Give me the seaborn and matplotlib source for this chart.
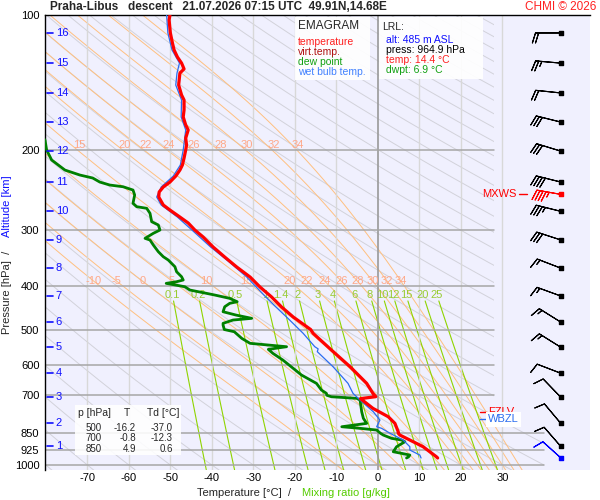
import numpy as np
import pandas as pd
import matplotlib
matplotlib.use("Agg")
import matplotlib.pyplot as plt
import seaborn as sns
from matplotlib.patches import Rectangle, Polygon
from matplotlib.ticker import NullLocator

# ---- sounding (hPa, degC) ----
temp_p = [100.0, 102.6, 109.6, 115.4, 119.6, 124.0, 127.9, 131.8, 134.6, 143.1, 150.6, 154.5,
          162.6, 168.5, 175.6, 180.1, 187.7, 194.5, 199.5, 207.9, 215.5, 221.1, 228.0, 235.1,
          241.1, 247.4, 253.8, 264.4, 271.3, 281.2, 289.9, 300.5, 311.5, 327.8, 345.1, 363.2,
          382.2, 402.3, 423.4, 445.6, 469.0, 500.0, 509.9, 555.3, 604.9, 658.6, 693.1, 700.0,
          705.0, 712.0, 748.4, 781.3, 808.2, 843.6, 850.0, 858.0, 880.2, 910.9, 958.8, 964.9]
temp_t = [-50.1, -50.3, -50.0, -49.5, -49.1, -48.3, -47.3, -46.7, -47.7, -48.0, -47.3, -46.7,
          -46.7, -46.9, -46.3, -45.7, -46.3, -46.1, -46.3, -46.7, -47.1, -47.7, -48.7, -50.1,
          -51.7, -52.7, -52.8, -51.7, -50.1, -47.7, -45.7, -44.1, -42.1, -39.7, -36.9, -34.0,
          -30.8, -28.4, -25.6, -23.2, -20.4, -16.2, -15.6, -11.2, -6.7, -2.7, -1.2, -0.8,
          -0.5, -4.2, -1.2, 2.5, 4.1, 4.9, 4.9, 5.3, 7.7, 10.9, 14.1, 14.4]

dwpt_p = [150.0, 189.6, 199.6, 210.0, 221.1, 226.8, 230.3, 235.1, 238.7, 240.8, 244.9, 251.2,
          262.1, 266.7, 268.9, 275.9, 288.0, 292.9, 300.5, 305.6, 313.6, 316.3, 324.5, 335.8,
          344.5, 350.4, 362.6, 372.0, 381.6, 388.1, 391.5, 394.8, 401.7, 408.5, 415.5, 419.1,
          426.3, 433.7, 437.3, 445.0, 456.5, 464.3, 472.2, 476.3, 484.4, 488.7, 500.0, 505.7,
          523.1, 536.6, 546.0, 553.4, 564.8, 584.5, 609.9, 631.2, 658.6, 681.5, 693.1, 700.0,
          705.3, 711.1, 717.3, 761.6, 787.7, 808.2, 822.3, 829.0, 836.3, 850.0, 858.0, 872.6,
          880.2, 887.9, 910.9, 934.5, 942.2, 950.5, 958.8, 964.9]
dwpt_t = [-92.0, -80.2, -79.8, -78.6, -75.4, -71.8, -68.7, -67.0, -64.6, -61.4, -59.0, -58.6,
          -59.0, -58.1, -55.7, -54.9, -54.5, -52.9, -52.5, -54.1, -56.1, -54.9, -54.1, -52.9,
          -51.7, -50.5, -48.9, -48.5, -47.3, -46.9, -48.5, -51.0, -46.5, -45.3, -41.3, -39.3,
          -35.7, -33.9, -35.7, -36.9, -37.3, -34.2, -30.4, -34.9, -37.3, -37.3, -37.0, -34.6,
          -32.8, -30.8, -22.0, -26.4, -25.3, -22.9, -20.4, -18.4, -14.8, -13.6, -12.4, -12.3,
          -11.2, -5.1, -4.3, -3.9, -3.5, -2.7, -8.7, -4.3, -0.3, 0.6, 1.3, 3.3,
          5.7, 6.5, 4.5, 3.7, 5.7, 7.7, 7.4, 6.9]

wetb_p = [100.0, 109.6, 119.6, 127.9, 134.6, 143.1, 154.5, 168.5, 180.1, 199.5, 215.5, 228.0,
          241.1, 253.8, 264.4, 281.2, 300.5, 327.8, 352.7, 382.2, 423.4, 452.5, 469.0, 509.9,
          546.0, 552.0, 560.0, 604.9, 658.6, 693.1, 717.3, 761.6, 794.6, 822.3, 829.0, 850.0,
          880.2, 910.9, 926.4, 950.5, 964.9]
wetb_t = [-50.9, -50.6, -49.6, -47.8, -48.4, -48.7, -47.3, -47.4, -46.3, -46.9, -47.6, -49.3,
          -52.2, -53.3, -52.2, -48.3, -44.8, -40.3, -36.0, -31.6, -27.0, -23.8, -22.0, -18.0,
          -15.2, -14.4, -14.6, -10.8, -7.2, -6.0, -4.3, -1.1, 0.5, -0.3, 0.9, 2.9,
          6.1, 7.7, 7.7, 10.1, 10.4]

# altitude scale (km -> hPa) and winds at those levels
alt_km = list(range(1, 17))
alt_p = [908, 807, 706, 625, 547, 481, 421, 365, 316, 273, 235, 200.6, 172.9, 149.0, 127.9, 109.6]
wind_dir = [319, 320, 316, 291, 302, 302, 290, 291, 288, 284, 284, 287, 284, 276, 275, 270]
wind_spd = [10, 10, 10, 10, 15, 15, 15, 15, 30, 35, 40, 30, 30, 20, 25, 20]
mxws_p, mxws_dir, mxws_spd = 250.0, 280, 45
sfc_p, sfc_dir, sfc_spd = 964.9, 312, 10
fzlv_p, wbzl_p = 762.0, 792.0

press_ticks = [100, 200, 300, 400, 500, 600, 700, 850, 925, 1000]
temp_ticks = [-70, -60, -50, -40, -30, -20, -10, 0, 10, 20, 30]
mix_vals = [0.1, 0.2, 0.5, 1, 1.4, 2, 3, 4, 6, 8, 10, 12, 15, 20, 25]
mix_labels = ["0.1", "0.2", "0.5", "1", "1.4", "2", "3", "4", "6", "8", "10", "12", "15", "20", "25"]
tw_low = [-10, -5, 0, 5, 10, 15, 20, 22, 24, 26, 28, 30, 32, 34]
tw_high = [15, 20, 22, 24, 26, 28, 30, 32, 34]

tab_p = [500, 700, 850]
tab_t = [-16.2, -0.8, 4.9]
tab_td = [-37.0, -12.3, 0.6]

sns.set_theme(style="white")
plt.rcParams["font.family"] = ["Liberation Sans", "DejaVu Sans"]

W, H = 600, 500
fig = plt.figure(figsize=(6, 5), dpi=100, facecolor="white")
ax = fig.add_axes([45 / W, 1 - 470 / H, 545 / W, 455 / H])
ax.set_facecolor("#f0f0fe")
ax.set_yscale("log")
ax.set_xlim(-80.2, 51.1)
ax.set_ylim(1026, 100)

def ftxt(x, y, s, **kw):
    fig.text(x / W, 1 - y / H, s, **kw)

def fbox(x0, y0, x1, y1, alpha=0.92):
    fig.add_artist(Rectangle((x0 / W, 1 - y1 / H), (x1 - x0) / W, (y1 - y0) / H,
                             transform=fig.transFigure, facecolor="white", edgecolor="none",
                             alpha=alpha, zorder=1))

clip = Polygon([(-81, 90), (28, 90), (28, 815), (40, 815), (40, 1100), (-81, 1100)],
               closed=True, transform=ax.transData)

# dry adiabats
pp = np.geomspace(95, 1100, 200)
for th in range(-80, 320, 10):
    tt = (th + 273.15) * (pp / 1000.0) ** 0.2857 - 273.15
    ln, = ax.plot(tt, pp, color="#d2d2da", lw=0.7, zorder=1)
    ln.set_clip_path(clip)

# pseudo-adiabats
def rate(T, p):
    es = 6.112 * np.exp(17.67 * (T - 273.15) / (T - 29.65))
    rs = 0.622 * es / (p - es)
    return (287.04 * T + 2.501e6 * rs) / p / (1005.7 + 2.501e6 ** 2 * rs * 0.622 / (287.04 * T * T))

def moist(tw):
    segs = []
    for p_end, step in ((95.0, -2.0), (1100.0, 2.0)):
        T, p = tw + 273.15, 1000.0
        ps, ts = [p], [T]
        while (p > p_end) if step < 0 else (p < p_end):
            k1 = rate(T, p)
            k2 = rate(T + 0.5 * step * k1, p + 0.5 * step)
            T += step * k2
            p += step
            ps.append(p)
            ts.append(T)
        segs.append((np.array(ps), np.array(ts) - 273.15))
    up, dn = segs
    return np.concatenate([up[0][::-1], dn[0][1:]]), np.concatenate([up[1][::-1], dn[1][1:]])

moist_lines = {}
for tw in sorted(set(tw_low + tw_high)):
    mp, mt = moist(tw)
    moist_lines[tw] = (mp, mt)
    ln, = ax.plot(mt, mp, color="#ffc080", lw=0.7, zorder=1.2)
    ln.set_clip_path(clip)
for tw in tw_low:
    mp, mt = moist_lines[tw]
    ax.text(np.interp(390, mp, mt), 390, str(tw), color="#ffa888", fontsize=8,
            ha="center", va="center", zorder=2)
for tw in tw_high:
    mp, mt = moist_lines[tw]
    xt = np.interp(201, mp, mt)
    if xt > -78:
        ax.text(xt, 194, str(tw), color="#ffa888", fontsize=8, ha="center", va="center", zorder=2)

# mixing ratio lines
pm = np.geomspace(432, 1030, 60)
for w, lab in zip(mix_vals, mix_labels):
    lg = np.log(w * pm / (622.0 + w) / 6.112)
    ax.plot(243.5 * lg / (17.67 - lg), pm, color="#8fd400", lw=0.8, zorder=1.4)
    lg0 = np.log(w * 418.0 / (622.0 + w) / 6.112)
    ax.text(243.5 * lg0 / (17.67 - lg0), 418, lab, color="#99cc33", fontsize=8,
            ha="center", va="center", zorder=2)

# grid
for t in temp_ticks:
    ax.axvline(t, color="#999999" if t == 0 else "#d8d8d8", lw=1.2 if t == 0 else 1.0, zorder=1.5)
for p in press_ticks[1:]:
    ax.plot([-80.2, 28 if p < 800 else 40], [p, p], color="#a6a6a6", lw=1.1, zorder=2)

# altitude ticks
for km, p in zip(alt_km, alt_p):
    ax.plot([-79.8, -78.3], [p, p], color="#1010ff", lw=1.2, zorder=6)
    ax.text(-77.6, p, str(km), color="#1010ff", fontsize=8, ha="left", va="center", zorder=6)

# profiles
sns.lineplot(data=pd.DataFrame({"p": dwpt_p, "T": dwpt_t}), x="T", y="p", sort=False,
             estimator=None, color="#008000", lw=2.0, ax=ax, zorder=4)
sns.lineplot(data=pd.DataFrame({"p": wetb_p, "T": wetb_t}), x="T", y="p", sort=False,
             estimator=None, color="#2a6cf0", lw=0.9, ax=ax, zorder=4.5)
sns.lineplot(data=pd.DataFrame({"p": temp_p, "T": temp_t}), x="T", y="p", sort=False,
             estimator=None, color="#ff0000", lw=2.3, ax=ax, zorder=5)

# winds
def uv(d, s):
    r = np.deg2rad(np.asarray(d, float))
    s = np.asarray(s, float)
    return -s * np.sin(r), -s * np.cos(r)

bx = 44.0
barb_kw = dict(length=6, lw=0.8, flip_barb=True, zorder=6)
u, v = uv(wind_dir, wind_spd)
ax.barbs([bx] * len(alt_p), alt_p, u, v, color="black", **barb_kw)
ax.scatter([bx] * len(alt_p), alt_p, marker="s", s=5, color="black", zorder=6)
u, v = uv([mxws_dir], [mxws_spd])
ax.barbs([bx], [mxws_p], u, v, color="#ff0000", **barb_kw)
ax.scatter([bx], [mxws_p], marker="s", s=5, color="#ff0000", zorder=6)
u, v = uv([sfc_dir], [sfc_spd])
ax.barbs([bx], [sfc_p], u, v, color="#0000ff", **barb_kw)
ax.scatter([bx], [sfc_p], marker="s", s=5, color="#0000ff", zorder=6)

ax.text(33.5, mxws_p, "MXWS", color="#ff0000", fontsize=8, ha="right", va="center", zorder=6)
ax.plot([34.1, 36.0], [mxws_p, mxws_p], color="#ff0000", lw=1.0, zorder=6)
ax.plot([24.6, 26.3], [fzlv_p, fzlv_p], color="#ff0000", lw=1.0, zorder=6)
ax.text(26.5, fzlv_p, "FZLV", color="#ff0000", fontsize=8, ha="left", va="center", zorder=6)
ax.plot([24.6, 26.3], [wbzl_p, wbzl_p], color="#2a6cf0", lw=1.0, zorder=7)
ax.text(26.5, wbzl_p, "WBZL", color="#2a6cf0", fontsize=8, ha="left", va="center", zorder=7,
        bbox=dict(facecolor="white", edgecolor="none", pad=1.5))

# axes cosmetics
for side in ("bottom", "right"):
    ax.spines[side].set_visible(False)
for side in ("left", "top"):
    ax.spines[side].set_color("black")
    ax.spines[side].set_linewidth(1.0)
ax.set_yticks(press_ticks)
ax.set_yticklabels([str(p) for p in press_ticks])
ax.yaxis.set_minor_locator(NullLocator())
ax.set_xticks(temp_ticks)
ax.set_xticklabels([str(t) for t in temp_ticks])
ax.tick_params(length=0, labelsize=8, colors="black")
ax.tick_params(axis="x", pad=2)
ax.tick_params(axis="y", pad=4)
ax.set_xlabel("")
ax.set_ylabel("")
ax.grid(False)

# title and axis titles
ftxt(50, 7, "Praha-Libus   descent   21.07.2026 07:15 UTC  49.91N,14.68E",
     fontsize=8.5, weight="bold", ha="left", va="center")
ftxt(596, 7, "CHMI \u00a9 2026", fontsize=8.5, color="#ff2020", ha="right", va="center")
ftxt(197, 493, "Temperature [\u00b0C]  /", fontsize=8, ha="left", va="center")
ftxt(302, 493, "Mixing ratio [g/kg]", fontsize=8, color="#55cc00", ha="left", va="center")
ftxt(7, 334, "Pressure [hPa]  /", fontsize=8, rotation=90, ha="center", va="bottom")
ftxt(7, 237, "Altitude [km]", fontsize=8, rotation=90, ha="center", va="bottom", color="#1010ff")

# legend box
fbox(295, 17, 370, 80)
ftxt(298, 26, "EMAGRAM", fontsize=8.5, ha="left", va="center")
for yy, s, c in [(42, "temperature", "#ff2020"), (52, "virt.temp.", "#b01010"),
                 (62, "dew point", "#10a010"), (72, "wet bulb temp.", "#4080ff")]:
    ftxt(298, yy, s, fontsize=7.5, color=c, ha="left", va="center")

# launch info box
fbox(379, 17, 483, 79)
ftxt(382, 27, "LRL:", fontsize=7.5, ha="left", va="center")
for yy, s, c in [(40, "alt: 485 m ASL", "#1010ff"), (50, "press: 964.9 hPa", "#000000"),
                 (60, "temp: 14.4 \u00b0C", "#ff2020"), (70, "dwpt: 6.9 \u00b0C", "#10a010")]:
    ftxt(386, yy, s, fontsize=7.5, color=c, ha="left", va="center")

# level table
fbox(75, 405, 181, 455, alpha=0.88)
ftxt(78, 413, "p [hPa]", fontsize=7.5, ha="left", va="center")
ftxt(127, 413, "T", fontsize=7.5, ha="center", va="center")
ftxt(147, 413, "Td [\u00b0C]", fontsize=7.5, ha="left", va="center")
for i, (p, t, td) in enumerate(zip(tab_p, tab_t, tab_td)):
    yy = 428 + 10.3 * i
    ftxt(102, yy, str(p), fontsize=7, ha="right", va="center")
    ftxt(136, yy, f"{t:.1f}", fontsize=7, ha="right", va="center")
    ftxt(173, yy, f"{td:.1f}", fontsize=7, ha="right", va="center")

fig.savefig("out.png", dpi=100, facecolor="white")
